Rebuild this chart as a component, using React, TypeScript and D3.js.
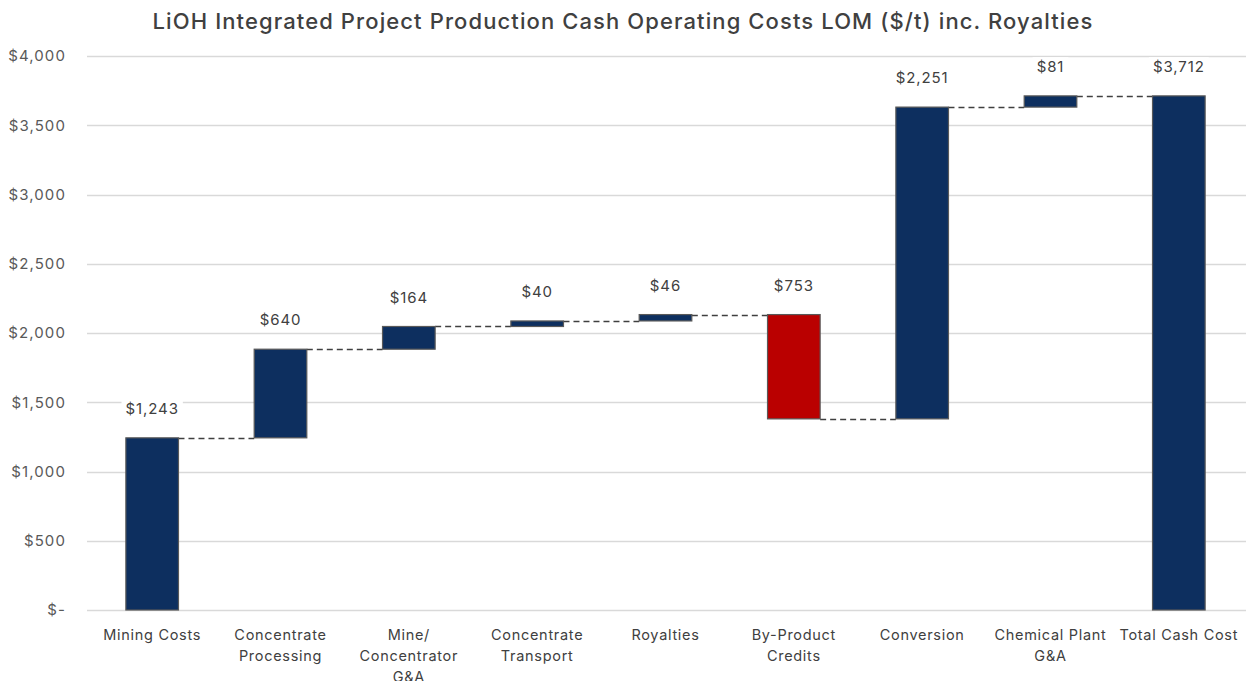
import React, { useRef, useEffect } from 'react';
import * as d3 from 'd3';

const categories = [
  ['Mining Costs'],
  ['Concentrate', 'Processing'],
  ['Mine/', 'Concentrator', 'G&A'],
  ['Concentrate', 'Transport'],
  ['Royalties'],
  ['By-Product', 'Credits'],
  ['Conversion'],
  ['Chemical Plant', 'G&A'],
  ['Total Cash Cost'],
];
const deltas = [1243, 640, 164, 40, 46, -753, 2251, 81, 3712];
const isTotal = [false, false, false, false, false, false, false, false, true];
const yTicks = [0, 500, 1000, 1500, 2000, 2500, 3000, 3500, 4000];

const title = 'LiOH Integrated Project Production Cash Operating Costs LOM ($/t) inc. Royalties';

const W = 1246;
const H = 681;
const FONT = 'Inter, "Noto Sans", sans-serif';

const App = () => {
  const ref = useRef<SVGSVGElement>(null);

  useEffect(() => {
    const svg = d3.select(ref.current);
    svg.selectAll('*').remove();

    const margin = { top: 56, right: 3, bottom: 71, left: 88 };

    // running totals for the waterfall
    let run = 0;
    const steps = deltas.map((v, i) => {
      if (isTotal[i]) {
        return { i, lo: 0, hi: v, start: v, end: v, v };
      }
      const start = run;
      run += v;
      return { i, lo: Math.min(start, run), hi: Math.max(start, run), start, end: run, v };
    });

    const x = d3.scaleBand<number>()
      .domain(deltas.map((_, i) => i))
      .range([margin.left, W - margin.right])
      .paddingInner(0.59)
      .paddingOuter(0.295);

    const y = d3.scaleLinear()
      .domain([0, 4000])
      .range([H - margin.bottom, margin.top]);

    svg.append('text')
      .attr('x', W / 2)
      .attr('y', 29)
      .attr('text-anchor', 'middle')
      .attr('font-family', FONT)
      .attr('font-size', 22)
      .attr('font-weight', 500)
      .attr('letter-spacing', 1.1)
      .attr('fill', '#404040')
      .text(title);

    // grid
    svg.append('g')
      .selectAll('line')
      .data(yTicks)
      .join('line')
      .attr('x1', 87)
      .attr('x2', W)
      .attr('y1', d => Math.round(y(d)) + 0.5)
      .attr('y2', d => Math.round(y(d)) + 0.5)
      .attr('stroke', '#d9d9d9')
      .attr('stroke-width', 1.3);

    svg.append('g')
      .selectAll('text')
      .data(yTicks)
      .join('text')
      .attr('x', 66)
      .attr('y', d => y(d))
      .attr('dy', '0.35em')
      .attr('text-anchor', 'end')
      .attr('font-family', FONT)
      .attr('font-size', 15)
      .attr('letter-spacing', 1.1)
      .attr('fill', '#595959')
      .text(d => (d === 0 ? '$-' : d3.format('$,')(d)));

    // connectors
    svg.append('g')
      .selectAll('line')
      .data(steps.slice(0, -1))
      .join('line')
      .attr('x1', d => x(d.i)! + x.bandwidth())
      .attr('x2', d => x(d.i + 1)!)
      .attr('y1', d => Math.round(y(d.end)) + 0.5)
      .attr('y2', d => Math.round(y(d.end)) + 0.5)
      .attr('stroke', '#404040')
      .attr('stroke-width', 1.3)
      .attr('stroke-dasharray', '6,4');

    // bars
    svg.append('g')
      .selectAll('rect')
      .data(steps)
      .join('rect')
      .attr('x', d => x(d.i)!)
      .attr('y', d => y(d.hi))
      .attr('width', x.bandwidth())
      .attr('height', d => Math.max(1, y(d.lo) - y(d.hi)))
      .attr('fill', d => (d.v < 0 ? '#BA0000' : '#0D2F5F'))
      .attr('stroke', '#595959')
      .attr('stroke-width', 1.2);

    // value labels with white background
    const lbl = svg.append('g')
      .selectAll('g')
      .data(steps)
      .join('g')
      .attr('transform', d => `translate(${x(d.i)! + x.bandwidth() / 2},${y(d.hi) - 29})`);

    const rects = lbl.append('rect').attr('fill', 'white');
    const texts = lbl.append('text')
      .attr('text-anchor', 'middle')
      .attr('dy', '0.35em')
      .attr('font-family', FONT)
      .attr('font-size', 15)
      .attr('letter-spacing', 0.9)
      .attr('fill', '#404040')
      .text(d => d3.format('$,')(Math.abs(d.v)));

    texts.each(function (_, k) {
      const b = (this as SVGTextElement).getBBox();
      d3.select(rects.nodes()[k])
        .attr('x', b.x - 4)
        .attr('y', b.y)
        .attr('width', b.width + 8)
        .attr('height', b.height);
    });

    // category labels
    svg.append('g')
      .selectAll('text')
      .data(categories)
      .join('text')
      .attr('x', (_, i) => x(i)! + x.bandwidth() / 2)
      .attr('y', 640)
      .attr('text-anchor', 'middle')
      .attr('font-family', FONT)
      .attr('font-size', 14.5)
      .attr('letter-spacing', 0.7)
      .attr('fill', '#404040')
      .selectAll('tspan')
      .data(d => d)
      .join('tspan')
      .attr('x', function () {
        return (this.parentNode as SVGTextElement).getAttribute('x');
      })
      .attr('dy', (_, j) => (j === 0 ? 0 : 21))
      .text(d => d);
  }, []);

  return <svg ref={ref} width={W} height={H} style={{ position: 'absolute', left: 0, top: 0, background: 'white' }} />;
};

export default App;
